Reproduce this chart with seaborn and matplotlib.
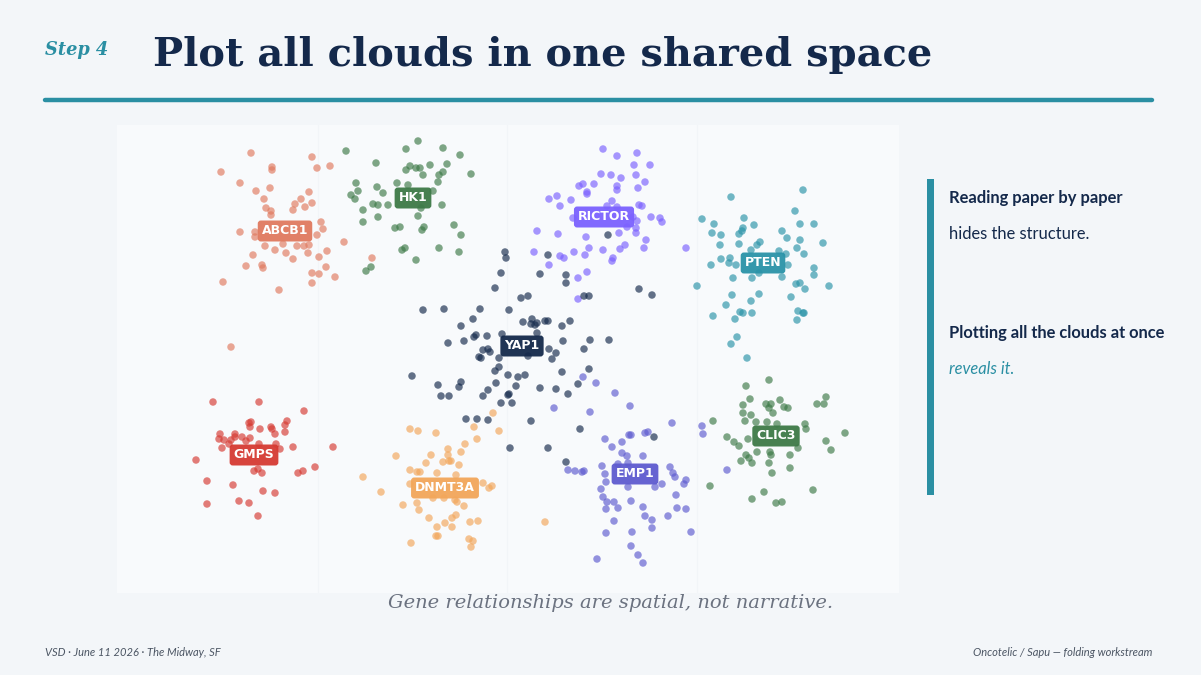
import matplotlib
matplotlib.use("Agg")
import matplotlib.pyplot as plt
import seaborn as sns
import pandas as pd

# ---------------- data (embedding coordinates) ----------------
genes = ["ABCB1", "HK1", "RICTOR", "PTEN", "YAP1", "GMPS", "DNMT3A", "EMP1", "CLIC3"]

abcb1_x = [251, 221, 312, 272, 272, 317, 330, 240, 256, 270, 309, 264, 301, 295, 312, 305, 293, 266, 271, 271,
           321, 323, 240, 255, 255, 317, 344, 265, 283, 297, 304, 309, 275, 286, 308, 327, 253, 293, 319, 246,
           262, 263, 326, 312, 319, 335, 223, 312, 279, 372, 231]
abcb1_y = [153, 172, 157, 167, 170, 168, 166, 183, 191, 188, 192, 199, 199, 204, 203, 207, 210, 208, 211, 215,
           222, 229, 232, 232, 237, 235, 242, 246, 244, 246, 246, 245, 250, 253, 253, 251, 255, 259, 257, 266,
           265, 268, 267, 273, 274, 277, 282, 283, 290, 258, 347]

hk1_x = [346, 418, 406, 443, 460, 376, 410, 416, 420, 406, 430, 447, 423, 443, 439, 471, 356, 397, 438, 377,
         408, 358, 351, 355, 383, 433, 373, 378, 388, 421, 442, 363, 378, 418, 363, 395, 400, 424, 422, 454,
         461, 402, 405, 439, 459, 416, 371, 366]
hk1_y = [151, 141, 149, 148, 155, 163, 166, 168, 168, 170, 165, 164, 175, 172, 175, 174, 183, 183, 182, 187,
         185, 191, 195, 199, 193, 191, 204, 205, 205, 208, 205, 210, 217, 216, 222, 228, 227, 227, 230, 225,
         235, 250, 248, 248, 252, 260, 267, 271]

rictor_x = [603, 637, 617, 634, 650, 601, 611, 621, 636, 617, 617, 638, 645, 579, 583, 594, 587, 587, 549, 557,
            571, 560, 612, 607, 617, 639, 642, 633, 651, 660, 662, 637, 573, 627, 636, 636, 619, 537, 558, 586,
            646, 644, 625, 620, 603, 589, 574, 585, 560, 564, 534, 613, 612, 549, 587, 578, 578, 686]
rictor_y = [149, 153, 156, 165, 165, 174, 175, 178, 175, 186, 190, 188, 182, 186, 184, 184, 192, 194, 199, 196,
            200, 206, 201, 206, 207, 205, 206, 217, 217, 218, 222, 221, 218, 227, 228, 233, 233, 231, 234, 237,
            240, 248, 245, 249, 250, 248, 252, 255, 256, 258, 252, 258, 261, 265, 272, 278, 299, 248]

pten_x = [803, 731, 795, 702, 714, 744, 754, 800, 814, 712, 721, 743, 742, 739, 782, 787, 800, 823, 720, 739,
          757, 760, 797, 804, 751, 779, 786, 721, 730, 729, 736, 711, 788, 814, 814, 733, 752, 759, 782, 697,
          796, 800, 805, 829, 732, 759, 791, 751, 726, 740, 743, 752, 798, 803, 804, 713, 735, 797, 737, 731, 747]
pten_y = [190, 197, 211, 219, 224, 218, 225, 224, 224, 233, 235, 228, 231, 234, 231, 238, 240, 243, 245, 244,
          245, 242, 248, 254, 250, 251, 254, 259, 258, 263, 265, 265, 265, 268, 275, 278, 278, 273, 277, 286,
          284, 283, 289, 286, 295, 294, 297, 301, 305, 312, 313, 313, 311, 313, 313, 316, 319, 320, 337, 344, 358]

yap1_x = [505, 506, 548, 540, 566, 566, 501, 495, 639, 652, 584, 589, 521, 528, 423, 444, 480, 509, 473, 461,
          523, 532, 531, 537, 535, 545, 548, 562, 570, 476, 474, 487, 502, 537, 448, 464, 563, 590, 609, 483,
          488, 490, 549, 556, 584, 479, 481, 499, 528, 552, 499, 495, 589, 412, 508, 518, 525, 562, 461, 438,
          459, 496, 516, 540, 556, 578, 488, 441, 449, 483, 509, 508, 568, 501, 512, 466, 477, 488, 531, 580,
          654, 510, 548, 566, 608]
yap1_y = [252, 258, 255, 274, 275, 283, 273, 288, 289, 295, 296, 296, 298, 296, 310, 309, 309, 310, 319, 326,
          322, 319, 324, 323, 325, 321, 321, 326, 321, 335, 337, 336, 334, 333, 343, 341, 341, 340, 340, 350,
          349, 352, 349, 353, 349, 357, 358, 358, 356, 359, 367, 371, 369, 376, 375, 377, 375, 372, 382, 385,
          387, 383, 386, 388, 389, 384, 390, 396, 396, 396, 394, 395, 394, 403, 403, 419, 419, 420, 421, 429,
          437, 448, 448, 462, 235]

gmps_x = [213, 259, 304, 249, 251, 250, 260, 271, 272, 287, 285, 285, 275, 220, 219, 224, 229, 231, 235, 235,
          242, 246, 250, 259, 276, 280, 293, 333, 222, 196, 254, 258, 262, 298, 303, 315, 207, 233, 263, 275,
          207, 239, 249, 258]
gmps_y = [402, 402, 411, 423, 422, 427, 429, 427, 429, 421, 425, 432, 434, 434, 439, 440, 444, 440, 434, 437,
          437, 441, 438, 444, 444, 449, 447, 447, 448, 460, 471, 469, 473, 473, 471, 467, 481, 485, 491, 493,
          504, 501, 503, 516]

dnmt3a_x = [493, 474, 499, 410, 418, 436, 477, 465, 396, 431, 448, 448, 461, 426, 443, 449, 451, 459, 410, 417,
            420, 437, 456, 363, 410, 483, 489, 492, 381, 433, 444, 455, 457, 403, 417, 464, 419, 456, 452, 429,
            445, 470, 478, 545, 437, 452, 436, 438, 469, 473, 471, 411]
dnmt3a_y = [413, 427, 431, 429, 431, 433, 439, 444, 456, 455, 449, 455, 452, 463, 462, 461, 461, 465, 470, 472,
            472, 473, 475, 477, 484, 483, 488, 486, 492, 498, 498, 500, 502, 505, 503, 506, 510, 515, 518, 518,
            523, 522, 521, 522, 527, 527, 536, 536, 539, 541, 547, 543]

emp1_x = [590, 672, 702, 703, 629, 631, 645, 648, 605, 612, 622, 622, 627, 643, 628, 568, 575, 582, 584, 602,
          605, 618, 670, 673, 675, 686, 684, 606, 628, 655, 662, 601, 603, 607, 614, 631, 676, 606, 618, 643,
          677, 686, 645, 652, 668, 614, 652, 606, 632, 691, 631, 638, 643, 597, 583, 596, 554, 615, 630, 727]
emp1_y = [412, 423, 426, 434, 435, 435, 433, 432, 439, 447, 442, 453, 456, 456, 463, 470, 471, 472, 471, 466,
          474, 464, 467, 473, 477, 480, 484, 482, 487, 487, 484, 489, 497, 502, 502, 501, 495, 509, 508, 507,
          508, 509, 516, 520, 516, 521, 528, 533, 532, 532, 546, 555, 563, 559, 377, 383, 408, 393, 406, 470]

clic3_x = [769, 746, 750, 743, 766, 771, 769, 780, 784, 788, 826, 817, 824, 743, 751, 773, 713, 745, 756, 767,
           777, 805, 806, 845, 727, 734, 739, 748, 798, 826, 831, 757, 770, 771, 746, 749, 790, 741, 752, 769,
           790, 772, 710, 813, 764, 752, 776, 782]
clic3_y = [380, 386, 399, 405, 404, 404, 408, 400, 407, 408, 397, 404, 404, 413, 415, 413, 421, 421, 422, 422,
           424, 424, 429, 433, 437, 442, 446, 439, 448, 441, 450, 452, 452, 455, 455, 458, 455, 461, 463, 463,
           468, 473, 486, 490, 492, 499, 503, 502]

# label anchor (cloud centre) for each gene
label_x = [285, 413, 604, 763, 522, 254, 445, 635, 776]
label_y = [231, 198, 217, 263, 346, 455, 488, 474, 436]

colors = ["#E07A5F", "#3D7A47", "#7B61FF", "#2A93A8", "#14294B", "#D63A32", "#F2A65A", "#5E5BCF", "#3D7A47"]

# ---------------- assemble ----------------
xs = [abcb1_x, hk1_x, rictor_x, pten_x, yap1_x, gmps_x, dnmt3a_x, emp1_x, clic3_x]
ys = [abcb1_y, hk1_y, rictor_y, pten_y, yap1_y, gmps_y, dnmt3a_y, emp1_y, clic3_y]
frames = [pd.DataFrame({"x": x, "y": y, "gene": g}) for g, x, y in zip(genes, xs, ys)]
df = pd.concat(frames, ignore_index=True)
palette = dict(zip(genes, colors))

BG = "#F3F6F9"
NAVY = "#14294B"
TEAL = "#2A8FA3"

sns.set_theme(style="white")
plt.rcParams["font.family"] = ["DejaVu Sans"]

fig = plt.figure(figsize=(12.01, 6.75), dpi=100, facecolor=BG)
ax = fig.add_axes([117 / 1201, (675 - 593) / 675, 782 / 1201, 468 / 675])
ax.set_facecolor("#F8FAFC")

sns.scatterplot(data=df, x="x", y="y", hue="gene", palette=palette, s=29, alpha=0.66,
                edgecolor="none", linewidth=0, legend=False, ax=ax, zorder=3)

ax.set_xlim(117, 899)
ax.set_ylim(593, 125)
ax.set_xticks([318, 507, 697])
ax.set_yticks([])
ax.tick_params(axis="x", length=0, labelbottom=False)
ax.grid(axis="x", color="#F2F5F8", linewidth=0.8, zorder=0)
ax.set_xlabel("")
ax.set_ylabel("")
for s in ax.spines.values():
    s.set_visible(False)

for g, lx, ly, c in zip(genes, label_x, label_y, colors):
    ax.text(lx, ly, g, ha="center", va="center", color="white", fontsize=9, fontweight="bold",
            family="DejaVu Sans", zorder=5,
            bbox=dict(boxstyle="round,pad=0.32,rounding_size=0.25", facecolor=c, edgecolor="none", alpha=0.95))

# ---------------- header ----------------
fig.text(45 / 1201, 1 - 50 / 675, "Step 4", ha="left", va="center", color=TEAL, fontsize=12.8,
         fontweight="bold", style="italic", family="DejaVu Serif")
fig.text(153 / 1201, 1 - 55 / 675, "Plot all clouds in one shared space", ha="left", va="center",
         color=NAVY, fontsize=28.8, fontweight="bold", family="DejaVu Serif")
fig.add_artist(plt.Line2D([45 / 1201, 1152 / 1201], [1 - 100 / 675, 1 - 100 / 675],
                          color=TEAL, linewidth=3.2, transform=fig.transFigure))

# ---------------- side panel ----------------
fig.add_artist(plt.Rectangle((927 / 1201, 1 - 495 / 675), 7 / 1201, 316 / 675,
                             facecolor="#2A8FA3", edgecolor="none", transform=fig.transFigure))
fig.text(949 / 1201, 1 - 198 / 675, "Reading paper by paper", ha="left", va="center", color=NAVY,
         fontsize=11.9, fontweight="bold", family="Lato")
fig.text(949 / 1201, 1 - 234 / 675, "hides the structure.", ha="left", va="center", color=NAVY,
         fontsize=11.9, family="Lato")
fig.text(949 / 1201, 1 - 333 / 675, "Plotting all the clouds at once", ha="left", va="center", color=NAVY,
         fontsize=11.9, fontweight="bold", family="Lato")
fig.text(949 / 1201, 1 - 369 / 675, "reveals it.", ha="left", va="center", color=TEAL,
         fontsize=11.9, style="italic", family="Lato")

# ---------------- caption & footer ----------------
fig.text(611 / 1201, 1 - 603 / 675, "Gene relationships are spatial, not narrative.", ha="center",
         va="center", color="#6B7280", fontsize=14, style="italic", family="DejaVu Serif")
fig.text(45 / 1201, 1 - 653 / 675, "VSD · June 11 2026 · The Midway, SF", ha="left", va="center",
         color="#4B5563", fontsize=8, style="italic", family="Lato")
fig.text(1152 / 1201, 1 - 653 / 675, "Oncotelic / Sapu — folding workstream", ha="right", va="center",
         color="#4B5563", fontsize=8, style="italic", family="Lato")

fig.savefig("out.png", dpi=100, facecolor=BG)
